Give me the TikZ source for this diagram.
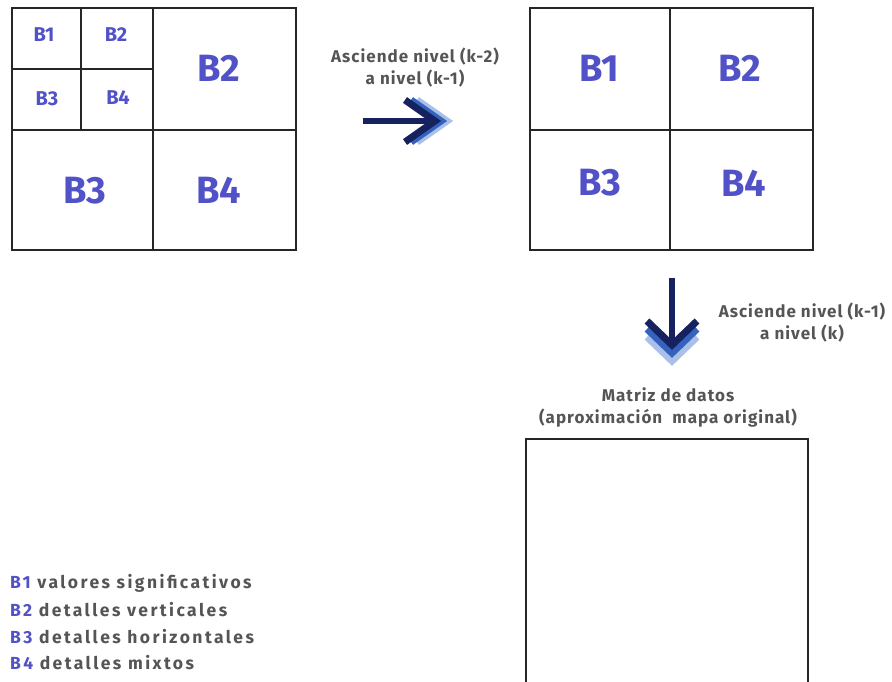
\documentclass[tikz,border=0pt]{standalone}
\usepackage{fontspec}
\setmainfont{Fira Sans}
\newfontfamily\capfont[LetterSpace=6]{Fira Sans}
\newfontfamily\legfont[LetterSpace=14]{Fira Sans}
\begin{document}
\begin{tikzpicture}[x=1pt,y=-1pt,
  gridline/.style={draw=black!85,line width=1.4pt},
  blk/.style={text=blockblue,font=\bfseries,inner sep=0pt},
  bigblk/.style={blk,font=\fontsize{38}{40}\selectfont\bfseries},
  smallblk/.style={blk,font=\fontsize{20}{22}\selectfont\bfseries},
  caption/.style={text=capgray,font=\capfont\fontsize{17}{22}\selectfont\bfseries,align=center,inner sep=0pt},
  legend/.style={text=capgray,font=\legfont\fontsize{17.5}{20}\selectfont\bfseries,anchor=west,inner sep=0pt},
  chev/.style={line width=7pt,line join=miter,miter limit=10},
]
\definecolor{blockblue}{RGB}{82,82,200}
\definecolor{capgray}{RGB}{85,85,85}
\definecolor{navy}{RGB}{22,34,96}
\definecolor{midblue}{RGB}{52,98,188}
\definecolor{paleblue}{RGB}{170,192,232}

\useasboundingbox (0,0) rectangle (892,681);
\fill[white] (0,0) rectangle (892,681);
\clip (0,0) rectangle (892,681);

% level (k-2) grid with subdivided first quadrant
\draw[gridline] (12,8) rectangle (296,250);
\draw[gridline] (153,8) -- (153,250);
\draw[gridline] (12,130) -- (296,130);
\draw[gridline] (81,8) -- (81,130);
\draw[gridline] (12,69) -- (153,69);
\node[smallblk] (s1) at (44,35) {B1};
\node[smallblk] (s2) at (116,35) {B2};
\node[smallblk] (s3) at (47,99) {B3};
\node[smallblk] (s4) at (118,98) {B4};
\node[bigblk] (l2) at (219,68) {B2};
\node[bigblk] (l3) at (85,191) {B3};
\node[bigblk] (l4) at (219,190) {B4};

% level (k-1) grid
\draw[gridline] (530,8) rectangle (813,250);
\draw[gridline] (670,8) -- (670,250);
\draw[gridline] (530,130) -- (813,130);
\node[bigblk] (r1) at (599,68) {B1};
\node[bigblk] (r2) at (740,68) {B2};
\node[bigblk] (r3) at (600,183) {B3};
\node[bigblk] (r4) at (744,183) {B4};

% horizontal step arrow
\draw[chev,paleblue] (417,100) -- (447,121) -- (417,142);
\draw[chev,midblue] (411,100) -- (441,121) -- (411,142);
\draw[line width=6pt,navy] (363,121) -- (430,121);
\draw[chev,navy] (405,100) -- (435,121) -- (405,142);
\node[caption] (capA) at (415,68) {Asciende nivel (k-2)\\a nivel (k-1)};

% vertical step arrow
\draw[chev,paleblue] (647,337) -- (672,361) -- (697,337);
\draw[chev,midblue] (647,329) -- (672,353) -- (697,329);
\draw[line width=6pt,navy] (672,278) -- (672,342);
\draw[chev,navy] (647,321) -- (672,345) -- (697,321);
\node[caption] (capB) at (802,323) {Asciende nivel (k-1)\\a nivel (k)};

% level (k) data matrix
\node[caption] (capC) at (668,407) {Matriz de datos\\(aproximación~~mapa original)};
\draw[gridline] (526,700) -- (526,439) -- (808,439) -- (808,700);

% legend
\node[legend] (g1) at (10,583) {\textcolor{blockblue}{B1} valores significativos};
\node[legend] (g2) at (10,610) {\textcolor{blockblue}{B2} detalles verticales};
\node[legend] (g3) at (10,637) {\textcolor{blockblue}{B3} detalles horizontales};
\node[legend] (g4) at (10,663) {\textcolor{blockblue}{B4} detalles mixtos};
\end{tikzpicture}
\end{document}
